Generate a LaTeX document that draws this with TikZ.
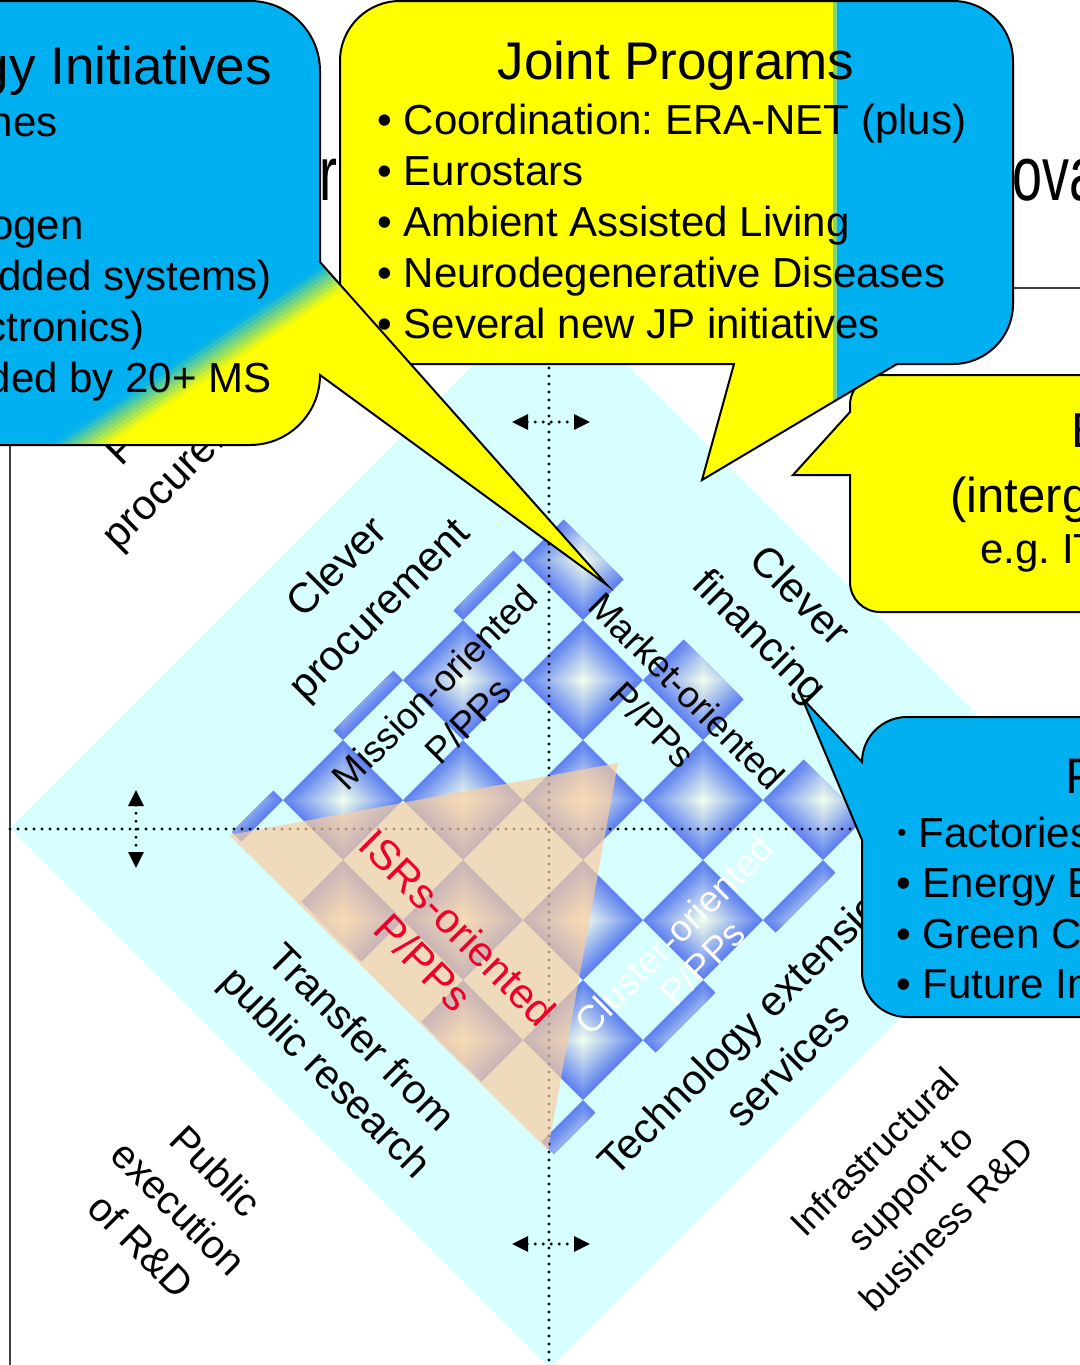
\documentclass[tikz,border=0pt]{standalone}
\usepackage{fontspec}
\setmainfont{Liberation Sans}
\frenchspacing
\usetikzlibrary{arrows.meta,calc}
\definecolor{cbg}{RGB}{215,255,255}
\definecolor{cblue}{RGB}{0,176,240}
\definecolor{cyel}{RGB}{255,255,0}
\definecolor{cellE}{RGB}{95,130,240}
\definecolor{cellC}{RGB}{238,252,236}
\definecolor{peach}{RGB}{250,205,160}
\definecolor{isred}{RGB}{240,0,40}
\begin{document}
\begin{tikzpicture}[x=0.5pt,y=-0.5pt,
  lbl/.style={inner sep=0pt, align=center},
  dotline/.style={line width=1.6pt, dash pattern=on 0pt off 4pt, line cap=round},
  tipA/.style={{Triangle[length=8pt,width=7.5pt]}-{Triangle[length=8pt,width=7.5pt]}},
  callout/.style={draw=black, line width=1pt},
  txt/.style={inner sep=0pt, font=\fontsize{21}{25}\selectfont},
  ttl/.style={inner sep=0pt, font=\fontsize{26.5}{30}\selectfont},
  bigttl/.style={inner sep=0pt, font=\fontsize{38.5}{40}\selectfont, xscale=0.7},
]
\useasboundingbox (0,0) rectangle (1080,1365);
\clip (0,0) rectangle (1080,1365);
\fill[white] (0,0) rectangle (1080,1365);

% background title fragments
\node[bigttl, anchor=base east] (tr) at (338,200) {r};
\node[bigttl, anchor=base west] (tova) at (1012,200) {ova};

% frame
\coordinate (fr1) at (10,1370);
\coordinate (fr2) at (10,288);
\coordinate (fr3) at (1090,288);
\draw[black!75, line width=0.8pt] (fr1) -- (fr2) -- (fr3);

% big diamond
\fill[cbg] (550,288) -- (1090,828) -- (550,1368) -- (10,828) -- cycle;

% checker pattern
\begin{scope}
\clip (554,510) -- (876,832) -- (554,1154) -- (232,832) -- cycle;
\foreach \p in {-3,...,2}{
  \foreach \q in {-1,...,4}{
    \begin{scope}[shift={({583+120*\p},{680+120*\q})}]
      \foreach \k in {0,...,14}{
        \pgfmathsetmacro\r{60-4*\k}
        \pgfmathtruncatemacro\m{100*\k/14}
        \fill[cellC!\m!cellE] (-\r,0) -- (0,-\r) -- (\r,0) -- (0,\r) -- cycle;
      }
    \end{scope}
  }
}
\end{scope}

% axes
\coordinate (vt) at (549,288);
\coordinate (vb) at (549,1370);
\coordinate (hl) at (10,829);
\coordinate (hr) at (870,829);
\draw[dotline] (vt) -- (vb);
\draw[dotline] (hl) -- (hr);

% ISR triangle
\fill[peach, opacity=0.7] (229,835) -- (618,763) -- (548,1150) -- cycle;

% double arrows
\coordinate (ta1) at (512,422); \coordinate (ta2) at (590,422);
\coordinate (ba1) at (512,1244); \coordinate (ba2) at (590,1244);
\coordinate (la1) at (136,790); \coordinate (la2) at (136,868);
\draw[dotline, tipA] (ta1) -- (ta2);
\draw[dotline, tipA] (ba1) -- (ba2);
\draw[dotline, tipA] (la1) -- (la2);

% labels
\node[lbl, rotate=45, font=\fontsize{21}{28.5}\selectfont] (pubproc) at (174,440) {Public\\procurement};
\node[lbl, rotate=45, font=\fontsize{21}{30}\selectfont] (clevproc) at (360,590) {Clever\\procurement};
\node[lbl, rotate=45, font=\fontsize{18.5}{23.5}\selectfont] (mission) at (451,704) {Mission-oriented\\P/PPs};
\node[lbl, rotate=-45, font=\fontsize{18.5}{24}\selectfont] (market) at (670,708) {Market-oriented\\P/PPs};
\node[lbl, rotate=-45, font=\fontsize{21}{28.5}\selectfont] (clevfin) at (778,618) {Clever\\financing};
\node[lbl, rotate=-45, text=isred, font=\fontsize{21}{24.5}\selectfont] (isrs) at (441,945) {ISRs-oriented\\P/PPs};
\node[lbl, rotate=45, text=white, font=\fontsize{18.5}{20}\selectfont] (cluster) at (688,949) {Cluster-oriented\\P/PPs};
\node[lbl, rotate=-45, font=\fontsize{20.5}{25}\selectfont] (transfer) at (342,1057) {Transfer from\\public research};
\node[lbl, rotate=45, font=\fontsize{21}{28}\selectfont] (techext) at (767,1045) {Technology extension\\services};
\node[lbl, rotate=-45, font=\fontsize{20}{26.5}\selectfont] (pubexec) at (179,1208) {Public\\execution\\of R\&D};
\node[lbl, rotate=45, font=\fontsize{18}{25.5}\selectfont] (infra) at (910,1188) {Infrastructural\\support to\\business R\&D};

% right yellow callout (EUREKA)
\draw[callout, fill=cyel] (850,475) -- (793,475) -- (850,412) -- (850,405) arc[start angle=180,end angle=270,radius=30] -- (1100,375) -- (1100,612) -- (880,612) arc[start angle=90,end angle=180,radius=30] -- cycle;
\node[inner sep=0pt, anchor=base west, font=\fontsize{24.5}{28}\selectfont] (eu1) at (1071,447) {E};
\node[inner sep=0pt, anchor=base west, font=\fontsize{24.5}{28}\selectfont] (eu2) at (950,512) {(interg};
\node[txt, anchor=base west] (eu3) at (980,563) {e.g. IT};

% blue callout (PPPs)
\draw[callout, fill=cblue] (862,840) -- (802,698) -- (862,762) arc[start angle=180,end angle=270,radius=45] -- (1100,717) -- (1100,1017) -- (907,1017) arc[start angle=90,end angle=180,radius=45] -- cycle;
\node[inner sep=0pt, anchor=base west, font=\fontsize{25}{28}\selectfont] (pp0) at (1065,793) {P};
\node[inner sep=0pt, font=\fontsize{13}{13}\selectfont] (pb1) at (902,835) {•};
\node[txt, anchor=base west] (pp1) at (918,847) {Factories};
\node[txt, anchor=base west] (pp2) at (896,897) {• Energy E};
\node[txt, anchor=base west] (pp3) at (896,948) {• Green C};
\node[txt, anchor=base west] (pp4) at (896,998) {• Future In};

% Joint Programs callout
\begin{scope}
\clip (400,1) -- (953,1) arc[start angle=-90,end angle=0,radius=60] -- (1013,304) arc[start angle=0,end angle=90,radius=60] -- (897,364) -- (702,480) -- (734,364) -- (400,364) arc[start angle=90,end angle=180,radius=60] -- (340,61) arc[start angle=180,end angle=270,radius=60] -- cycle;
\fill[cyel] (300,-10) rectangle (1100,500);
\fill[cblue] (836,-10) rectangle (1100,500);
\fill[cyel!50!cblue] (833,-10) rectangle (837,500);
\end{scope}
\draw[callout] (400,1) -- (953,1) arc[start angle=-90,end angle=0,radius=60] -- (1013,304) arc[start angle=0,end angle=90,radius=60] -- (897,364) -- (702,480) -- (734,364) -- (400,364) arc[start angle=90,end angle=180,radius=60] -- (340,61) arc[start angle=180,end angle=270,radius=60] -- cycle;
\node[ttl, anchor=base] (jp0) at (676,79) {Joint Programs};
\node[txt, anchor=base west] (jp1) at (377,134) {• Coordination: ERA-NET (plus)};
\node[txt, anchor=base west] (jp2) at (377,185) {• Eurostars};
\node[txt, anchor=base west] (jp3) at (377,236) {• Ambient Assisted Living};
\node[txt, anchor=base west] (jp4) at (377,287) {• Neurodegenerative Diseases};
\node[txt, anchor=base west] (jp5) at (377,338) {• Several new JP initiatives};

% left callout (JTI)
\begin{scope}
\clip (-20,1) -- (250,1) arc[start angle=-90,end angle=0,radius=70] -- (320,262) -- (607,585) -- (320,375) arc[start angle=0,end angle=90,radius=70] -- (-20,445) -- cycle;
\fill[cblue] (-30,-10) rectangle (700,700);
\begin{scope}[shift={(205,362)}, rotate=33.4]
  \foreach \i in {0,...,7}{
    \pgfmathtruncatemacro\m{100*(\i+0.5)/8}
    \fill[cyel!\m!cblue] (-700,{-16+4*\i}) rectangle (700,{-11.5+4*\i});
  }
  \fill[cyel] (-700,16) rectangle (700,700);
\end{scope}
\end{scope}
\draw[callout] (-20,1) -- (250,1) arc[start angle=-90,end angle=0,radius=70] -- (320,262) -- (607,585) -- (320,375) arc[start angle=0,end angle=90,radius=70] -- (-20,445) -- cycle;
\node[ttl, anchor=base east] (jt0) at (272,84) {gy Initiatives};
\node[txt, anchor=base east] (jt1) at (58,136) {nes};
\node[txt, anchor=base east] (jt2) at (84,239) {ogen};
\node[txt, anchor=base east] (jt3) at (272,290) {dded systems)};
\node[txt, anchor=base east] (jt4) at (145,341) {ctronics)};
\node[txt, anchor=base east] (jt5) at (272,392) {ded by 20+ MS};
\end{tikzpicture}
\end{document}
